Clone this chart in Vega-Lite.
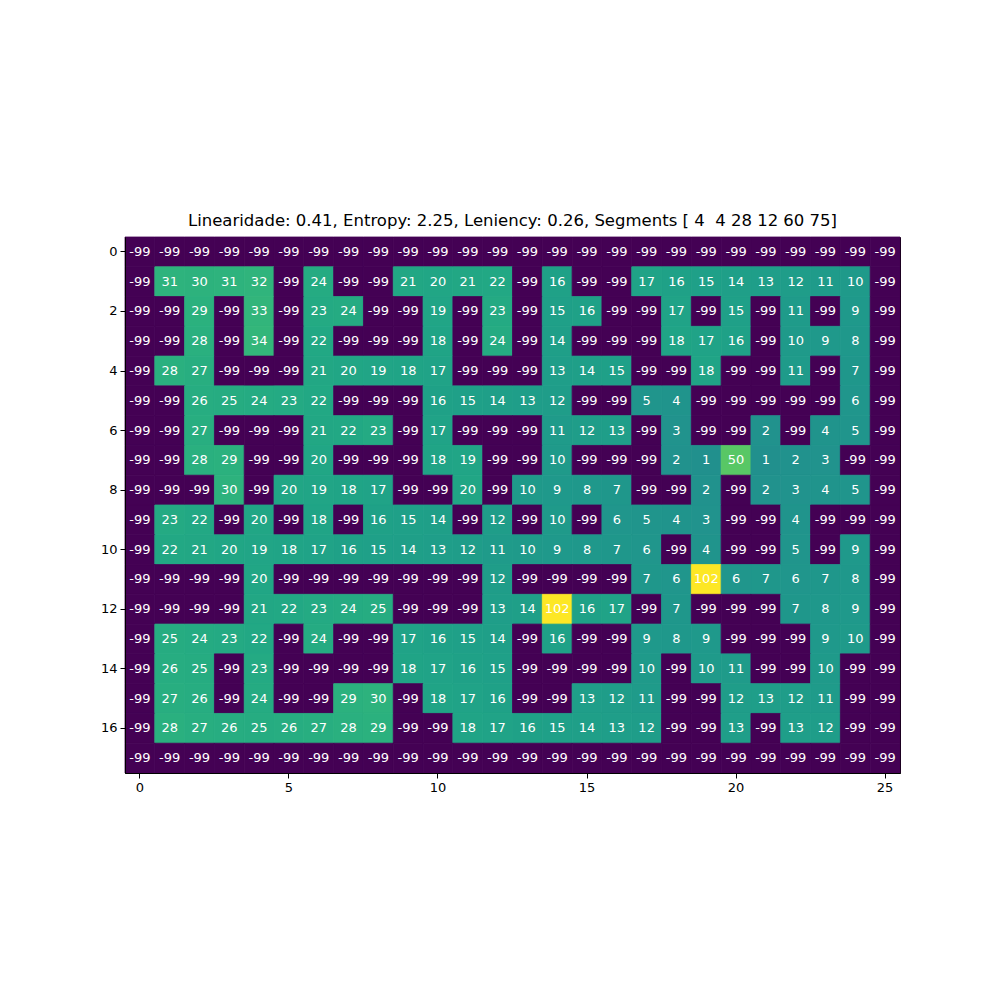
{
"$schema": "https://vega.github.io/schema/vega-lite/v6.json",
"width": 775, "height": 536,
"autosize": {"type": "none"},
"padding": {"left": 125, "top": 237, "right": 100, "bottom": 227},
"background": "white",
"title": {"text": "Linearidade: 0.41, Entropy: 2.25, Leniency: 0.26, Segments [ 4\u00a0 4 28 12 60 75]", "fontSize": 16.5, "fontWeight": "normal", "font": "DejaVu Sans", "color": "black", "offset": 7, "anchor": "middle"},
"data": {"values": [
{"r":0,"c":0,"v":-99},{"r":0,"c":1,"v":-99},{"r":0,"c":2,"v":-99},{"r":0,"c":3,"v":-99},{"r":0,"c":4,"v":-99},{"r":0,"c":5,"v":-99},{"r":0,"c":6,"v":-99},{"r":0,"c":7,"v":-99},{"r":0,"c":8,"v":-99},{"r":0,"c":9,"v":-99},{"r":0,"c":10,"v":-99},{"r":0,"c":11,"v":-99},{"r":0,"c":12,"v":-99},{"r":0,"c":13,"v":-99},{"r":0,"c":14,"v":-99},{"r":0,"c":15,"v":-99},{"r":0,"c":16,"v":-99},{"r":0,"c":17,"v":-99},{"r":0,"c":18,"v":-99},{"r":0,"c":19,"v":-99},{"r":0,"c":20,"v":-99},{"r":0,"c":21,"v":-99},{"r":0,"c":22,"v":-99},{"r":0,"c":23,"v":-99},{"r":0,"c":24,"v":-99},{"r":0,"c":25,"v":-99},
{"r":1,"c":0,"v":-99},{"r":1,"c":1,"v":31},{"r":1,"c":2,"v":30},{"r":1,"c":3,"v":31},{"r":1,"c":4,"v":32},{"r":1,"c":5,"v":-99},{"r":1,"c":6,"v":24},{"r":1,"c":7,"v":-99},{"r":1,"c":8,"v":-99},{"r":1,"c":9,"v":21},{"r":1,"c":10,"v":20},{"r":1,"c":11,"v":21},{"r":1,"c":12,"v":22},{"r":1,"c":13,"v":-99},{"r":1,"c":14,"v":16},{"r":1,"c":15,"v":-99},{"r":1,"c":16,"v":-99},{"r":1,"c":17,"v":17},{"r":1,"c":18,"v":16},{"r":1,"c":19,"v":15},{"r":1,"c":20,"v":14},{"r":1,"c":21,"v":13},{"r":1,"c":22,"v":12},{"r":1,"c":23,"v":11},{"r":1,"c":24,"v":10},{"r":1,"c":25,"v":-99},
{"r":2,"c":0,"v":-99},{"r":2,"c":1,"v":-99},{"r":2,"c":2,"v":29},{"r":2,"c":3,"v":-99},{"r":2,"c":4,"v":33},{"r":2,"c":5,"v":-99},{"r":2,"c":6,"v":23},{"r":2,"c":7,"v":24},{"r":2,"c":8,"v":-99},{"r":2,"c":9,"v":-99},{"r":2,"c":10,"v":19},{"r":2,"c":11,"v":-99},{"r":2,"c":12,"v":23},{"r":2,"c":13,"v":-99},{"r":2,"c":14,"v":15},{"r":2,"c":15,"v":16},{"r":2,"c":16,"v":-99},{"r":2,"c":17,"v":-99},{"r":2,"c":18,"v":17},{"r":2,"c":19,"v":-99},{"r":2,"c":20,"v":15},{"r":2,"c":21,"v":-99},{"r":2,"c":22,"v":11},{"r":2,"c":23,"v":-99},{"r":2,"c":24,"v":9},{"r":2,"c":25,"v":-99},
{"r":3,"c":0,"v":-99},{"r":3,"c":1,"v":-99},{"r":3,"c":2,"v":28},{"r":3,"c":3,"v":-99},{"r":3,"c":4,"v":34},{"r":3,"c":5,"v":-99},{"r":3,"c":6,"v":22},{"r":3,"c":7,"v":-99},{"r":3,"c":8,"v":-99},{"r":3,"c":9,"v":-99},{"r":3,"c":10,"v":18},{"r":3,"c":11,"v":-99},{"r":3,"c":12,"v":24},{"r":3,"c":13,"v":-99},{"r":3,"c":14,"v":14},{"r":3,"c":15,"v":-99},{"r":3,"c":16,"v":-99},{"r":3,"c":17,"v":-99},{"r":3,"c":18,"v":18},{"r":3,"c":19,"v":17},{"r":3,"c":20,"v":16},{"r":3,"c":21,"v":-99},{"r":3,"c":22,"v":10},{"r":3,"c":23,"v":9},{"r":3,"c":24,"v":8},{"r":3,"c":25,"v":-99},
{"r":4,"c":0,"v":-99},{"r":4,"c":1,"v":28},{"r":4,"c":2,"v":27},{"r":4,"c":3,"v":-99},{"r":4,"c":4,"v":-99},{"r":4,"c":5,"v":-99},{"r":4,"c":6,"v":21},{"r":4,"c":7,"v":20},{"r":4,"c":8,"v":19},{"r":4,"c":9,"v":18},{"r":4,"c":10,"v":17},{"r":4,"c":11,"v":-99},{"r":4,"c":12,"v":-99},{"r":4,"c":13,"v":-99},{"r":4,"c":14,"v":13},{"r":4,"c":15,"v":14},{"r":4,"c":16,"v":15},{"r":4,"c":17,"v":-99},{"r":4,"c":18,"v":-99},{"r":4,"c":19,"v":18},{"r":4,"c":20,"v":-99},{"r":4,"c":21,"v":-99},{"r":4,"c":22,"v":11},{"r":4,"c":23,"v":-99},{"r":4,"c":24,"v":7},{"r":4,"c":25,"v":-99},
{"r":5,"c":0,"v":-99},{"r":5,"c":1,"v":-99},{"r":5,"c":2,"v":26},{"r":5,"c":3,"v":25},{"r":5,"c":4,"v":24},{"r":5,"c":5,"v":23},{"r":5,"c":6,"v":22},{"r":5,"c":7,"v":-99},{"r":5,"c":8,"v":-99},{"r":5,"c":9,"v":-99},{"r":5,"c":10,"v":16},{"r":5,"c":11,"v":15},{"r":5,"c":12,"v":14},{"r":5,"c":13,"v":13},{"r":5,"c":14,"v":12},{"r":5,"c":15,"v":-99},{"r":5,"c":16,"v":-99},{"r":5,"c":17,"v":5},{"r":5,"c":18,"v":4},{"r":5,"c":19,"v":-99},{"r":5,"c":20,"v":-99},{"r":5,"c":21,"v":-99},{"r":5,"c":22,"v":-99},{"r":5,"c":23,"v":-99},{"r":5,"c":24,"v":6},{"r":5,"c":25,"v":-99},
{"r":6,"c":0,"v":-99},{"r":6,"c":1,"v":-99},{"r":6,"c":2,"v":27},{"r":6,"c":3,"v":-99},{"r":6,"c":4,"v":-99},{"r":6,"c":5,"v":-99},{"r":6,"c":6,"v":21},{"r":6,"c":7,"v":22},{"r":6,"c":8,"v":23},{"r":6,"c":9,"v":-99},{"r":6,"c":10,"v":17},{"r":6,"c":11,"v":-99},{"r":6,"c":12,"v":-99},{"r":6,"c":13,"v":-99},{"r":6,"c":14,"v":11},{"r":6,"c":15,"v":12},{"r":6,"c":16,"v":13},{"r":6,"c":17,"v":-99},{"r":6,"c":18,"v":3},{"r":6,"c":19,"v":-99},{"r":6,"c":20,"v":-99},{"r":6,"c":21,"v":2},{"r":6,"c":22,"v":-99},{"r":6,"c":23,"v":4},{"r":6,"c":24,"v":5},{"r":6,"c":25,"v":-99},
{"r":7,"c":0,"v":-99},{"r":7,"c":1,"v":-99},{"r":7,"c":2,"v":28},{"r":7,"c":3,"v":29},{"r":7,"c":4,"v":-99},{"r":7,"c":5,"v":-99},{"r":7,"c":6,"v":20},{"r":7,"c":7,"v":-99},{"r":7,"c":8,"v":-99},{"r":7,"c":9,"v":-99},{"r":7,"c":10,"v":18},{"r":7,"c":11,"v":19},{"r":7,"c":12,"v":-99},{"r":7,"c":13,"v":-99},{"r":7,"c":14,"v":10},{"r":7,"c":15,"v":-99},{"r":7,"c":16,"v":-99},{"r":7,"c":17,"v":-99},{"r":7,"c":18,"v":2},{"r":7,"c":19,"v":1},{"r":7,"c":20,"v":50},{"r":7,"c":21,"v":1},{"r":7,"c":22,"v":2},{"r":7,"c":23,"v":3},{"r":7,"c":24,"v":-99},{"r":7,"c":25,"v":-99},
{"r":8,"c":0,"v":-99},{"r":8,"c":1,"v":-99},{"r":8,"c":2,"v":-99},{"r":8,"c":3,"v":30},{"r":8,"c":4,"v":-99},{"r":8,"c":5,"v":20},{"r":8,"c":6,"v":19},{"r":8,"c":7,"v":18},{"r":8,"c":8,"v":17},{"r":8,"c":9,"v":-99},{"r":8,"c":10,"v":-99},{"r":8,"c":11,"v":20},{"r":8,"c":12,"v":-99},{"r":8,"c":13,"v":10},{"r":8,"c":14,"v":9},{"r":8,"c":15,"v":8},{"r":8,"c":16,"v":7},{"r":8,"c":17,"v":-99},{"r":8,"c":18,"v":-99},{"r":8,"c":19,"v":2},{"r":8,"c":20,"v":-99},{"r":8,"c":21,"v":2},{"r":8,"c":22,"v":3},{"r":8,"c":23,"v":4},{"r":8,"c":24,"v":5},{"r":8,"c":25,"v":-99},
{"r":9,"c":0,"v":-99},{"r":9,"c":1,"v":23},{"r":9,"c":2,"v":22},{"r":9,"c":3,"v":-99},{"r":9,"c":4,"v":20},{"r":9,"c":5,"v":-99},{"r":9,"c":6,"v":18},{"r":9,"c":7,"v":-99},{"r":9,"c":8,"v":16},{"r":9,"c":9,"v":15},{"r":9,"c":10,"v":14},{"r":9,"c":11,"v":-99},{"r":9,"c":12,"v":12},{"r":9,"c":13,"v":-99},{"r":9,"c":14,"v":10},{"r":9,"c":15,"v":-99},{"r":9,"c":16,"v":6},{"r":9,"c":17,"v":5},{"r":9,"c":18,"v":4},{"r":9,"c":19,"v":3},{"r":9,"c":20,"v":-99},{"r":9,"c":21,"v":-99},{"r":9,"c":22,"v":4},{"r":9,"c":23,"v":-99},{"r":9,"c":24,"v":-99},{"r":9,"c":25,"v":-99},
{"r":10,"c":0,"v":-99},{"r":10,"c":1,"v":22},{"r":10,"c":2,"v":21},{"r":10,"c":3,"v":20},{"r":10,"c":4,"v":19},{"r":10,"c":5,"v":18},{"r":10,"c":6,"v":17},{"r":10,"c":7,"v":16},{"r":10,"c":8,"v":15},{"r":10,"c":9,"v":14},{"r":10,"c":10,"v":13},{"r":10,"c":11,"v":12},{"r":10,"c":12,"v":11},{"r":10,"c":13,"v":10},{"r":10,"c":14,"v":9},{"r":10,"c":15,"v":8},{"r":10,"c":16,"v":7},{"r":10,"c":17,"v":6},{"r":10,"c":18,"v":-99},{"r":10,"c":19,"v":4},{"r":10,"c":20,"v":-99},{"r":10,"c":21,"v":-99},{"r":10,"c":22,"v":5},{"r":10,"c":23,"v":-99},{"r":10,"c":24,"v":9},{"r":10,"c":25,"v":-99},
{"r":11,"c":0,"v":-99},{"r":11,"c":1,"v":-99},{"r":11,"c":2,"v":-99},{"r":11,"c":3,"v":-99},{"r":11,"c":4,"v":20},{"r":11,"c":5,"v":-99},{"r":11,"c":6,"v":-99},{"r":11,"c":7,"v":-99},{"r":11,"c":8,"v":-99},{"r":11,"c":9,"v":-99},{"r":11,"c":10,"v":-99},{"r":11,"c":11,"v":-99},{"r":11,"c":12,"v":12},{"r":11,"c":13,"v":-99},{"r":11,"c":14,"v":-99},{"r":11,"c":15,"v":-99},{"r":11,"c":16,"v":-99},{"r":11,"c":17,"v":7},{"r":11,"c":18,"v":6},{"r":11,"c":19,"v":102},{"r":11,"c":20,"v":6},{"r":11,"c":21,"v":7},{"r":11,"c":22,"v":6},{"r":11,"c":23,"v":7},{"r":11,"c":24,"v":8},{"r":11,"c":25,"v":-99},
{"r":12,"c":0,"v":-99},{"r":12,"c":1,"v":-99},{"r":12,"c":2,"v":-99},{"r":12,"c":3,"v":-99},{"r":12,"c":4,"v":21},{"r":12,"c":5,"v":22},{"r":12,"c":6,"v":23},{"r":12,"c":7,"v":24},{"r":12,"c":8,"v":25},{"r":12,"c":9,"v":-99},{"r":12,"c":10,"v":-99},{"r":12,"c":11,"v":-99},{"r":12,"c":12,"v":13},{"r":12,"c":13,"v":14},{"r":12,"c":14,"v":102},{"r":12,"c":15,"v":16},{"r":12,"c":16,"v":17},{"r":12,"c":17,"v":-99},{"r":12,"c":18,"v":7},{"r":12,"c":19,"v":-99},{"r":12,"c":20,"v":-99},{"r":12,"c":21,"v":-99},{"r":12,"c":22,"v":7},{"r":12,"c":23,"v":8},{"r":12,"c":24,"v":9},{"r":12,"c":25,"v":-99},
{"r":13,"c":0,"v":-99},{"r":13,"c":1,"v":25},{"r":13,"c":2,"v":24},{"r":13,"c":3,"v":23},{"r":13,"c":4,"v":22},{"r":13,"c":5,"v":-99},{"r":13,"c":6,"v":24},{"r":13,"c":7,"v":-99},{"r":13,"c":8,"v":-99},{"r":13,"c":9,"v":17},{"r":13,"c":10,"v":16},{"r":13,"c":11,"v":15},{"r":13,"c":12,"v":14},{"r":13,"c":13,"v":-99},{"r":13,"c":14,"v":16},{"r":13,"c":15,"v":-99},{"r":13,"c":16,"v":-99},{"r":13,"c":17,"v":9},{"r":13,"c":18,"v":8},{"r":13,"c":19,"v":9},{"r":13,"c":20,"v":-99},{"r":13,"c":21,"v":-99},{"r":13,"c":22,"v":-99},{"r":13,"c":23,"v":9},{"r":13,"c":24,"v":10},{"r":13,"c":25,"v":-99},
{"r":14,"c":0,"v":-99},{"r":14,"c":1,"v":26},{"r":14,"c":2,"v":25},{"r":14,"c":3,"v":-99},{"r":14,"c":4,"v":23},{"r":14,"c":5,"v":-99},{"r":14,"c":6,"v":-99},{"r":14,"c":7,"v":-99},{"r":14,"c":8,"v":-99},{"r":14,"c":9,"v":18},{"r":14,"c":10,"v":17},{"r":14,"c":11,"v":16},{"r":14,"c":12,"v":15},{"r":14,"c":13,"v":-99},{"r":14,"c":14,"v":-99},{"r":14,"c":15,"v":-99},{"r":14,"c":16,"v":-99},{"r":14,"c":17,"v":10},{"r":14,"c":18,"v":-99},{"r":14,"c":19,"v":10},{"r":14,"c":20,"v":11},{"r":14,"c":21,"v":-99},{"r":14,"c":22,"v":-99},{"r":14,"c":23,"v":10},{"r":14,"c":24,"v":-99},{"r":14,"c":25,"v":-99},
{"r":15,"c":0,"v":-99},{"r":15,"c":1,"v":27},{"r":15,"c":2,"v":26},{"r":15,"c":3,"v":-99},{"r":15,"c":4,"v":24},{"r":15,"c":5,"v":-99},{"r":15,"c":6,"v":-99},{"r":15,"c":7,"v":29},{"r":15,"c":8,"v":30},{"r":15,"c":9,"v":-99},{"r":15,"c":10,"v":18},{"r":15,"c":11,"v":17},{"r":15,"c":12,"v":16},{"r":15,"c":13,"v":-99},{"r":15,"c":14,"v":-99},{"r":15,"c":15,"v":13},{"r":15,"c":16,"v":12},{"r":15,"c":17,"v":11},{"r":15,"c":18,"v":-99},{"r":15,"c":19,"v":-99},{"r":15,"c":20,"v":12},{"r":15,"c":21,"v":13},{"r":15,"c":22,"v":12},{"r":15,"c":23,"v":11},{"r":15,"c":24,"v":-99},{"r":15,"c":25,"v":-99},
{"r":16,"c":0,"v":-99},{"r":16,"c":1,"v":28},{"r":16,"c":2,"v":27},{"r":16,"c":3,"v":26},{"r":16,"c":4,"v":25},{"r":16,"c":5,"v":26},{"r":16,"c":6,"v":27},{"r":16,"c":7,"v":28},{"r":16,"c":8,"v":29},{"r":16,"c":9,"v":-99},{"r":16,"c":10,"v":-99},{"r":16,"c":11,"v":18},{"r":16,"c":12,"v":17},{"r":16,"c":13,"v":16},{"r":16,"c":14,"v":15},{"r":16,"c":15,"v":14},{"r":16,"c":16,"v":13},{"r":16,"c":17,"v":12},{"r":16,"c":18,"v":-99},{"r":16,"c":19,"v":-99},{"r":16,"c":20,"v":13},{"r":16,"c":21,"v":-99},{"r":16,"c":22,"v":13},{"r":16,"c":23,"v":12},{"r":16,"c":24,"v":-99},{"r":16,"c":25,"v":-99},
{"r":17,"c":0,"v":-99},{"r":17,"c":1,"v":-99},{"r":17,"c":2,"v":-99},{"r":17,"c":3,"v":-99},{"r":17,"c":4,"v":-99},{"r":17,"c":5,"v":-99},{"r":17,"c":6,"v":-99},{"r":17,"c":7,"v":-99},{"r":17,"c":8,"v":-99},{"r":17,"c":9,"v":-99},{"r":17,"c":10,"v":-99},{"r":17,"c":11,"v":-99},{"r":17,"c":12,"v":-99},{"r":17,"c":13,"v":-99},{"r":17,"c":14,"v":-99},{"r":17,"c":15,"v":-99},{"r":17,"c":16,"v":-99},{"r":17,"c":17,"v":-99},{"r":17,"c":18,"v":-99},{"r":17,"c":19,"v":-99},{"r":17,"c":20,"v":-99},{"r":17,"c":21,"v":-99},{"r":17,"c":22,"v":-99},{"r":17,"c":23,"v":-99},{"r":17,"c":24,"v":-99},{"r":17,"c":25,"v":-99}
]},
"encoding": {
  "x": {"field": "c", "type": "ordinal", "scale": {"paddingInner": 0, "paddingOuter": 0}, "axis": {"values": [0, 5, 10, 15, 20, 25], "labelAngle": 0, "title": null, "labelPadding": 3}},
  "y": {"field": "r", "type": "ordinal", "scale": {"paddingInner": 0, "paddingOuter": 0}, "axis": {"values": [0, 2, 4, 6, 8, 10, 12, 14, 16], "title": null, "labelPadding": 3}}
},
"layer": [
  {"mark": {"type": "rect", "strokeWidth": 0.8}, "encoding": {
    "color": {"field": "v", "type": "quantitative", "scale": {"scheme": "viridis", "domain": [-99, 102]}, "legend": null},
    "stroke": {"field": "v", "type": "quantitative", "scale": {"scheme": "viridis", "domain": [-99, 102]}, "legend": null}}},
  {"mark": {"type": "text", "color": "white", "fontSize": 13, "font": "DejaVu Sans"}, "encoding": {"text": {"field": "v", "type": "nominal"}}}
],
"config": {
  "view": {"stroke": "black", "strokeWidth": 1},
  "axis": {"domainColor": "black", "domainWidth": 1, "tickColor": "black", "tickWidth": 1, "tickSize": 5, "labelColor": "black", "labelFont": "DejaVu Sans", "labelFontSize": 13, "grid": false}
}
}
